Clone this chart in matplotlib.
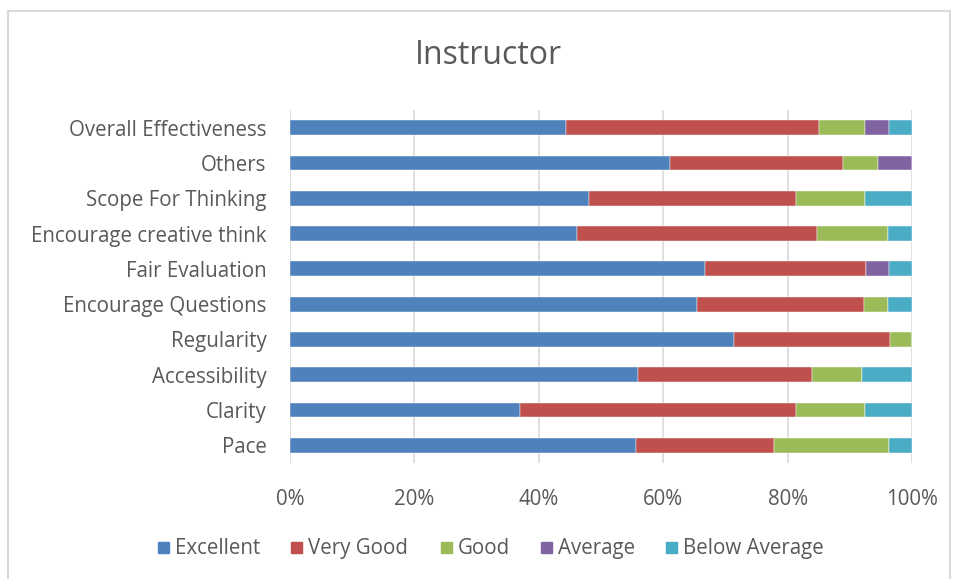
import matplotlib.pyplot as plt
import matplotlib.patches as mpatches
import numpy as np

# categories, bottom to top as drawn
categories = ["Pace", "Clarity", "Accessibility", "Regularity", "Encourage Questions",
              "Fair Evaluation", "Encourage creative think", "Scope For Thinking",
              "Others", "Overall Effectiveness"]

# percentages per rating
excellent = [55.6, 37.0, 56.0, 71.4, 65.4, 66.7, 46.2, 48.1, 61.1, 44.4]
very_good = [22.2, 44.4, 28.0, 25.0, 26.9, 25.9, 38.5, 33.3, 27.8, 40.7]
good      = [18.5, 11.1,  8.0,  3.6,  3.8,  0.0, 11.5, 11.1,  5.6,  7.4]
average   = [ 0.0,  0.0,  0.0,  0.0,  0.0,  3.7,  0.0,  0.0,  5.5,  3.8]
below_avg = [ 3.7,  7.5,  8.0,  0.0,  3.9,  3.7,  3.8,  7.5,  0.0,  3.7]

series = ["Excellent", "Very Good", "Good", "Average", "Below Average"]
colors = ["#4F81BD", "#C0504D", "#9BBB59", "#8064A2", "#4BACC6"]

plt.rcParams['font.family'] = ['Open Sans', 'DejaVu Sans']
text_col = "#595959"
fs = 14.8
W, H = 959, 579

fig = plt.figure(figsize=(W / 100, H / 100), dpi=100)
ax = fig.add_axes([290 / W, 1 - 463 / H, 622 / W, 353 / H])

y = np.arange(len(categories))
left = np.zeros(len(categories))
for name, vals, c in zip(series, [excellent, very_good, good, average, below_avg], colors):
    vals = np.array(vals)
    ax.barh(y, vals, left=left, height=0.42, color=c, label=name,
            edgecolor="white", linewidth=0.3)
    left += vals

ax.set_xlim(0, 100)
ax.set_ylim(-0.5, len(categories) - 0.5)
ax.set_yticks(y)
ax.set_yticklabels(categories, fontsize=fs, color=text_col)
ax.set_xticks(np.arange(0, 101, 20))
ax.set_xticklabels([f"{v}%" for v in range(0, 101, 20)], fontsize=fs, color=text_col)
ax.tick_params(axis="both", length=0)
ax.tick_params(axis="x", pad=19)
ax.tick_params(axis="y", pad=17)
ax.grid(axis="x", color="#d9d9d9", linewidth=1.2)
ax.set_axisbelow(True)
for s in ax.spines.values():
    s.set_visible(False)

fig.text(488 / W, 1 - 56 / H, "Instructor", ha="center", va="center",
         fontsize=23, color=text_col)

# legend, laid out by hand so the labels share one baseline
legend_x = [158, 291, 441, 541, 666]
for lx, name, c in zip(legend_x, series, colors):
    fig.add_artist(mpatches.Rectangle((lx / W, 1 - 553 / H), 11 / W, 11 / H,
                                      color=c, transform=fig.transFigure))
    fig.text((lx + 17) / W, 1 - 554 / H, name, ha="left", va="baseline",
             fontsize=fs, color=text_col)

# chart border
for xs, ys in [([8, 8], [H, 11]), ([8, 950], [11, 11]), ([950, 950], [11, H])]:
    fig.add_artist(plt.Line2D([v / W for v in xs], [1 - v / H for v in ys],
                              color="#d9d9d9", linewidth=1.5, transform=fig.transFigure))

fig.savefig("out.png", dpi=100)
